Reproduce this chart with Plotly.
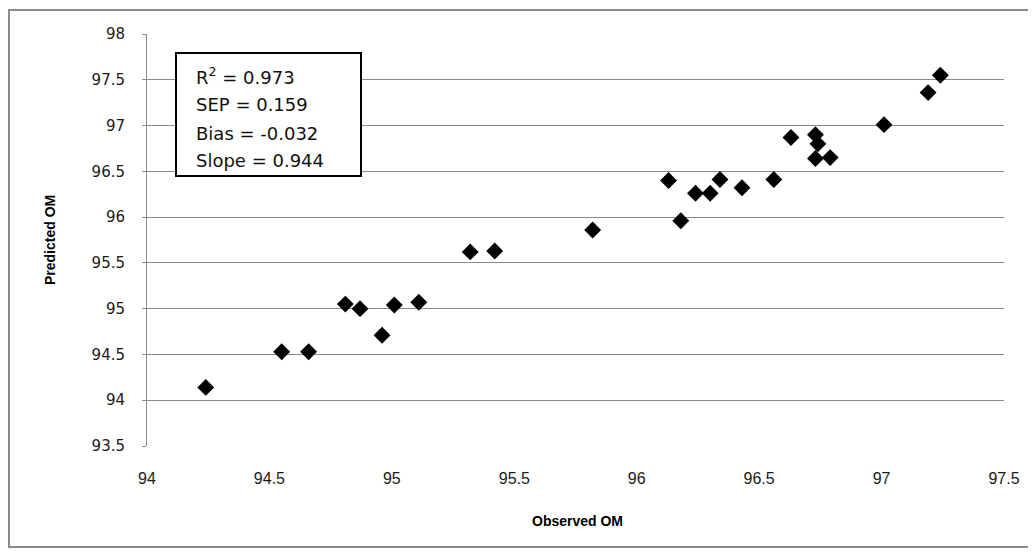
import plotly.graph_objects as go

observed = [94.24, 94.55, 94.66, 94.81, 94.87, 94.96, 95.01, 95.11,
            95.32, 95.42, 95.82, 96.13, 96.18, 96.24, 96.30, 96.34,
            96.43, 96.56, 96.63, 96.73, 96.74, 96.73, 96.79, 97.01,
            97.19, 97.24]
predicted = [94.14, 94.53, 94.53, 95.05, 95.00, 94.71, 95.04, 95.07,
             95.62, 95.63, 95.86, 96.40, 95.96, 96.26, 96.26, 96.41,
             96.32, 96.41, 96.87, 96.90, 96.80, 96.64, 96.65, 97.01,
             97.36, 97.55]

x_ticks = [94, 94.5, 95, 95.5, 96, 96.5, 97, 97.5]
y_ticks = [93.5, 94, 94.5, 95, 95.5, 96, 96.5, 97, 97.5, 98]
stats_lines = ["R<sup>2</sup> = 0.973", "SEP = 0.159", "Bias = -0.032", "Slope = 0.944"]

x_title = "Observed OM"
y_title = "Predicted OM"

W, H = 1036, 552
OFF = 8  # page offset of the figure (default body margin)
L, R, T, B = 139, 40, 26, 114
PW, PH = W - L - R, H - T - B


def px(page_x):
    return (page_x - OFF - L) / PW


def py(page_y):
    return (H - B - (page_y - OFF)) / PH


fig = go.Figure()
fig.add_trace(go.Scatter(
    x=observed, y=predicted, mode="markers",
    marker=dict(symbol="diamond", size=13, color="black",
                line=dict(width=0)),
    showlegend=False,
))

fig.update_layout(
    width=W, height=H,
    margin=dict(l=L, r=R, t=T, b=B, autoexpand=False),
    paper_bgcolor="white", plot_bgcolor="white",
    xaxis=dict(range=[94, 97.5], tickvals=x_ticks,
               ticktext=[f"{v:g}" for v in x_ticks],
               showgrid=False, zeroline=False, showline=False,
               ticks="outside", ticklen=18, tickcolor="rgba(0,0,0,0)",
               tickfont=dict(family="Liberation Sans", size=16, color="#1a1a1a"),
               fixedrange=True),
    yaxis=dict(range=[93.5, 98], tickvals=y_ticks,
               ticktext=[f"{v:g}" for v in y_ticks],
               showgrid=True, gridcolor="#8a8a8a", gridwidth=1,
               zeroline=False, showline=True, linecolor="#8a8a8a", linewidth=1,
               ticks="outside", ticklen=4, tickcolor="#8a8a8a",
               ticklabelstandoff=14,
               tickfont=dict(family="DejaVu Sans", size=15, color="#1a1a1a"),
               fixedrange=True),
    font=dict(family="DejaVu Sans", color="#1a1a1a"),
)

# no grid line at the bottom (93.5)
fig.add_shape(type="line", xref="paper", yref="paper", x0=0.002, x1=1, y0=0, y1=0,
              line=dict(color="white", width=2))

# stats box
fig.add_shape(type="rect", xref="paper", yref="paper",
              x0=px(176), x1=px(361), y0=py(176), y1=py(53),
              line=dict(color="black", width=2), fillcolor="white", layer="above")
line_page_y = [76, 104, 133, 160]
for txt, yy in zip(stats_lines, line_page_y):
    fig.add_annotation(xref="paper", yref="paper", x=px(194), y=py(yy), text=txt,
                       showarrow=False, xanchor="left", yanchor="middle",
                       font=dict(family="DejaVu Sans", size=18, color="#111"))

# axis titles
fig.add_annotation(xref="paper", yref="paper", x=px(577), y=py(521),
                   text=x_title, showarrow=False, xanchor="center", yanchor="middle",
                   font=dict(family="Liberation Sans", size=14, color="#000", weight="bold"))
fig.add_annotation(xref="paper", yref="paper", x=px(50), y=py(240),
                   text=y_title, showarrow=False, textangle=-90,
                   xanchor="center", yanchor="middle",
                   font=dict(family="Liberation Sans", size=14, color="#000", weight="bold"))

# outer chart border
fig.add_shape(type="rect", xref="paper", yref="paper",
              x0=px(9), x1=px(1030), y0=py(547), y1=py(10),
              line=dict(color="#8a8a8a", width=2), fillcolor="rgba(0,0,0,0)")

fig.write_html("out.html")
